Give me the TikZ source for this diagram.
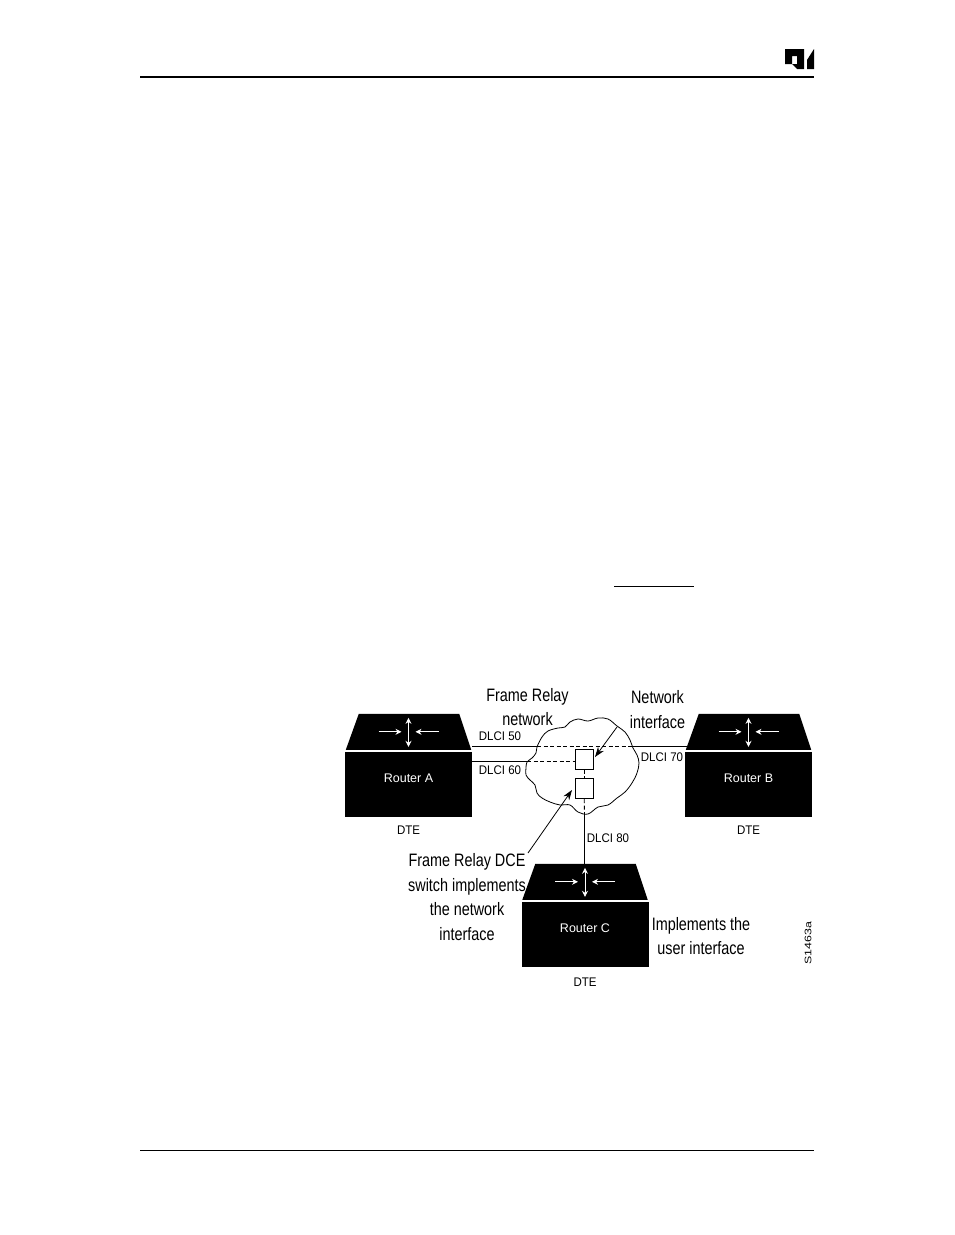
\documentclass[tikz,border=0pt]{standalone}
\usepackage{fontspec}
\setmainfont{Liberation Sans}
\newfontfamily\narrowfont[FakeStretch=0.8]{Liberation Sans}
\newfontfamily\smallfont[FakeStretch=0.92]{Liberation Sans}
\newfontfamily\widefont[FakeStretch=1.3]{Liberation Sans}
\usetikzlibrary{positioning,arrows.meta}
\tikzset{
  routerbody/.style={fill=black,minimum width=127pt,minimum height=65pt,inner sep=0pt},
  routerlabel/.style={text=white,inner sep=0pt,font=\fontsize{12.5}{14}\selectfont},
  biglabel/.style={align=center,inner sep=0pt,font=\narrowfont\fontsize{18}{24.5}\selectfont},
  smalllabel/.style={inner sep=0pt,font=\smallfont\fontsize{12.5}{14}\selectfont},
  switchbox/.style={draw=black,line width=1pt,fill=white,minimum width=18pt,minimum height=20pt,inner sep=0pt},
  pointer/.style={line width=.8pt,-{Stealth[length=10pt,width=7pt]}},
  whitearrow/.style={draw=white,line width=.9pt,-{Stealth[length=6pt,width=6pt]}},
  whitedouble/.style={draw=white,line width=.9pt,{Stealth[length=6pt,width=6pt]}-{Stealth[length=6pt,width=6pt]}},
  link/.style={line width=.9pt},
  dashlink/.style={line width=.9pt,dash pattern=on 4pt off 2.5pt}
}
\begin{document}
\begin{tikzpicture}[x=1pt,y=-1pt]
  \useasboundingbox (0,0) rectangle (954,1235);

  % page furniture
  \draw[line width=2pt] (140,77) -- (814,77);
  \draw[line width=.7pt] (140,1150) -- (814,1150);
  \draw[line width=.8pt] (614,586) -- (694,586);
  \fill (785,49) -- (804,49) -- (804,69) -- (797,69) -- (797,56) -- (792,56) -- (792,64) -- (785,64) -- cycle;
  \fill (792,64) -- (797,64) -- (797,69) -- cycle;
  \fill (807,69) -- (807,60) -- (814,49) -- (814,69) -- cycle;

  % cloud
  \draw[line width=.8pt,fill=white] plot[smooth cycle,tension=.6] coordinates {
    (526,768) (527,762) (532,758) (536,753) (537,747) (542,737) (548,731) (558,728) (565,727)
    (570,722) (578,719) (588,721) (598,718) (608,719) (617,726) (625,732) (630,740) (633,748)
    (637,755) (639,763) (637,773) (632,783) (625,792) (617,798) (608,805) (598,807)
    (588,814) (578,812) (570,805) (560,805) (550,802) (542,798) (537,793) (535,785) (530,780) (526,775)};

  % routers
  \node[routerbody] (routerA) at (408.5,784.5) {};
  \node[routerbody] (routerB) at (748.5,784.5) {};
  \node[routerbody] (routerC) at (585,934.5) {};
  \foreach \r in {A,B,C} {
    \fill ([shift={(1,-2)}]router\r.north west) -- ([shift={(14,-38)}]router\r.north west)
      -- ([shift={(-13,-38)}]router\r.north east) -- ([shift={(-1,-2)}]router\r.north east) -- cycle;
    \coordinate (roof\r) at ([yshift=38pt]router\r.north);
    \coordinate (hub\r) at ([yshift=20pt]router\r.north);
    \node[routerlabel] (name\r) at ([yshift=6pt]router\r.center) {Router \r};
    \draw[whitearrow] ([xshift=-30pt]hub\r) -- ([xshift=-7pt]hub\r);
    \draw[whitearrow] ([xshift=30pt]hub\r) -- ([xshift=7pt]hub\r);
    \draw[whitedouble] ([yshift=14pt]hub\r) -- ([yshift=-15pt]hub\r);
  }
  \node[smalllabel,below=8pt of routerA] (dteA) {DTE};
  \node[smalllabel,below=8pt of routerB] (dteB) {DTE};
  \node[smalllabel,below=10pt of routerC] (dteC) {DTE};

  % switches
  \node[switchbox] (switchN) at (584,759) {};
  \node[switchbox] (switchU) at (584,788.5) {};

  % links
  \coordinate (edge50) at (537,746);
  \coordinate (edge70) at (633,746);
  \coordinate (edge60) at (527,761);
  \coordinate (edge80) at (584.5,813);
  \coordinate (end70) at (702,746);
  \draw[link] (routerA.north east |- edge50) -- (edge50);
  \draw[dashlink] (edge50) -- (edge70);
  \draw[link] (edge70) -- (end70);
  \draw[link] (routerA.north east |- edge60) -- (edge60);
  \draw[dashlink] (edge60) -- (switchN.west |- edge60);
  \draw[dashlink] (switchN) -- (switchU);
  \draw[dashlink] (switchU) -- (edge80);
  \draw[link] (edge80) -- (edge80 |- roofC);

  % labels
  \node[smalllabel] (dlci50) at (500,736) {DLCI 50};
  \node[smalllabel] (dlci60) at (500,770) {DLCI 60};
  \node[smalllabel] (dlci70) at (662,757) {DLCI 70};
  \node[smalllabel] (dlci80) at (608,838) {DLCI 80};
  \node[biglabel] (framelabel) at (527.5,707) {Frame Relay\\network};
  \node[biglabel] (netlabel) at (657.5,709.5) {Network\\interface};
  \node[biglabel] (dcelabel) at (467,897) {Frame Relay DCE\\switch implements\\the network\\interface};
  \node[biglabel] (userlabel) at (701,936) {Implements the\\user interface};
  \node[inner sep=0pt,rotate=90,font=\widefont\fontsize{9.5}{11}\selectfont] (figcode) at (808,943) {S1463a};

  % pointers
  \coordinate (netstart) at (617,727);
  \coordinate (netend) at (595,757);
  \coordinate (dcestart) at (528,853);
  \coordinate (dceend) at (572,790);
  \draw[pointer] (netstart) -- (netend);
  \draw[pointer] (dcestart) -- (dceend);
\end{tikzpicture}
\end{document}
